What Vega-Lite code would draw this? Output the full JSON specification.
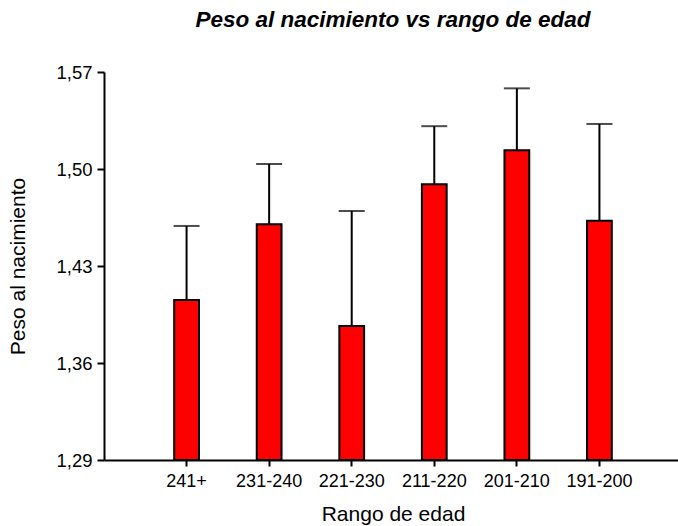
{
  "$schema": "https://vega.github.io/schema/vega-lite/v6.json",
  "autosize": "none",
  "width": 578,
  "height": 388,
  "padding": {"left": 104, "top": 72, "right": 0, "bottom": 66},
  "background": "white",
  "config": {
    "view": {"stroke": null},
    "font": "Liberation Sans"
  },
  "title": {
    "text": "Peso al nacimiento vs rango de edad",
    "font": "Liberation Sans",
    "fontSize": 22.5,
    "fontWeight": "bold",
    "fontStyle": "italic",
    "color": "black",
    "anchor": "middle",
    "offset": 32
  },
  "data": {
    "values": [
      {"rango": "241+", "peso": 1.4055, "sup": 1.4589},
      {"rango": "231-240", "peso": 1.4601, "sup": 1.5036},
      {"rango": "221-230", "peso": 1.3867, "sup": 1.4697},
      {"rango": "211-220", "peso": 1.4890, "sup": 1.5309},
      {"rango": "201-210", "peso": 1.5135, "sup": 1.5582},
      {"rango": "191-200", "peso": 1.4627, "sup": 1.5325}
    ]
  },
  "encoding": {
    "x": {
      "field": "rango",
      "type": "nominal",
      "sort": null,
      "scale": {"paddingInner": 0.7, "paddingOuter": 0.85},
      "axis": {
        "title": "Rango de edad",
        "titleFont": "Liberation Sans",
        "titleFontSize": 21,
        "titleFontWeight": "normal",
        "titleColor": "black",
        "titlePadding": 13,
        "labelFont": "Liberation Sans",
        "labelFontSize": 18,
        "labelColor": "black",
        "labelAngle": 0,
        "labelPadding": 6,
        "domainColor": "black",
        "domainWidth": 2,
        "tickColor": "black",
        "tickWidth": 2,
        "tickSize": 6
      }
    }
  },
  "layer": [
    {
      "mark": {"type": "rule", "color": "black", "strokeWidth": 2},
      "encoding": {
        "y": {"field": "peso", "type": "quantitative"},
        "y2": {"field": "sup"}
      }
    },
    {
      "mark": {"type": "tick", "color": "black", "thickness": 2, "size": 26},
      "encoding": {
        "y": {"field": "sup", "type": "quantitative"}
      }
    },
    {
      "mark": {"type": "bar", "fill": "#FF0000", "stroke": "black", "strokeWidth": 2},
      "encoding": {
        "y": {
          "field": "peso",
          "type": "quantitative",
          "scale": {"domain": [1.29, 1.57], "zero": false, "nice": false},
          "axis": {
            "title": "Peso al nacimiento",
            "titleFont": "Liberation Sans",
            "titleFontSize": 21,
            "titleFontWeight": "normal",
            "titleColor": "black",
            "titlePadding": 27,
            "values": [1.29, 1.36, 1.43, 1.5, 1.57],
            "labelExpr": "replace(format(datum.value, '.2f'), '.', ',')",
            "labelFont": "Liberation Sans",
            "labelFontSize": 18.5,
            "labelColor": "black",
            "labelPadding": 5,
            "grid": false,
            "domainColor": "black",
            "domainWidth": 2,
            "tickColor": "black",
            "tickWidth": 2,
            "tickSize": 7
          }
        },
        "y2": {"datum": 1.29}
      }
    }
  ]
}
